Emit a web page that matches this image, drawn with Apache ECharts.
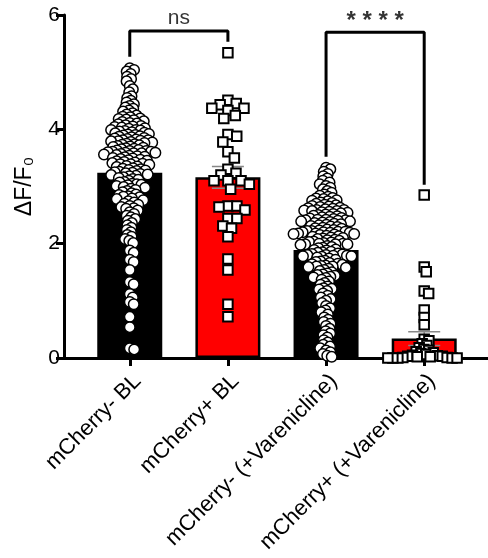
<!DOCTYPE html>
<html>
<head>
<meta charset="utf-8">
<script src="https://cdn.jsdelivr.net/npm/echarts@6/dist/echarts.min.js"></script>
<style>
html, body { margin: 0; padding: 0; background: #fff; }
#main { width: 488px; height: 558px; }
</style>
</head>
<body>
<div id="main"></div>
<script>
var categories = ['mCherry- BL', 'mCherry+ BL', 'mCherry- (+Varenicline)', 'mCherry+ (+Varenicline)'];
var barMeans = [3.24, 3.16, 1.89, 0.34];
var barSems = [0.07, 0.19, 0.06, 0.12];
var yTicks = [0, 2, 4, 6];

// mCherry- BL, each cell
var negBL = [
	5.07, 5.04, 5.01, 4.97, 4.92, 4.88, 4.84, 4.76, 4.70, 4.65,
	4.58, 4.55, 4.50, 4.47, 4.44, 4.41,
	4.38, 4.36, 4.33, 4.31, 4.28, 4.26, 4.24, 4.22, 4.21, 4.19,
	4.18, 4.17, 4.16, 4.14, 4.13, 4.11, 4.10, 4.09, 4.07, 4.06, 4.05, 4.04, 4.03, 4.02, 4.01, 3.99,
	3.99, 3.98, 3.97, 3.96, 3.95, 3.94, 3.93, 3.92, 3.91, 3.90, 3.89, 3.88, 3.87, 3.86, 3.85, 3.84, 3.83, 3.82, 3.81, 3.81, 3.80, 3.79,
	3.79, 3.78, 3.77, 3.76, 3.75, 3.74, 3.73, 3.72, 3.71, 3.70, 3.69, 3.68, 3.67, 3.66, 3.65, 3.64, 3.63, 3.62, 3.62, 3.61, 3.61, 3.60, 3.59, 3.59,
	3.58, 3.58, 3.57, 3.56, 3.55, 3.54, 3.53, 3.52, 3.51, 3.50, 3.49, 3.48, 3.47, 3.46, 3.45, 3.44, 3.43, 3.42, 3.41, 3.40, 3.39, 3.39,
	3.38, 3.36, 3.35, 3.34, 3.32, 3.31, 3.30, 3.29, 3.28, 3.27, 3.26, 3.25, 3.24, 3.23, 3.22, 3.21, 3.20, 3.19,
	3.18, 3.16, 3.15, 3.13, 3.12, 3.10, 3.08, 3.07, 3.05, 3.04, 3.03, 3.02, 3.01, 2.99,
	2.98, 2.96, 2.94, 2.92, 2.90, 2.88, 2.86, 2.85, 2.83, 2.82, 2.81, 2.79,
	2.78, 2.76, 2.74, 2.72, 2.70, 2.68, 2.66, 2.64, 2.62, 2.61,
	2.58, 2.55, 2.52, 2.49, 2.46, 2.43, 2.40,
	2.36, 2.32, 2.28, 2.24, 2.20,
	2.15, 2.12, 2.08, 2.05, 2.01,
	1.88, 1.84, 1.72, 1.68, 1.54, 1.33, 1.29, 1.12, 1.06, 0.98, 0.94, 0.72, 0.54, 0.17, 0.15
];
// mCherry+ BL
var posBL = [
	5.34, 4.51, 4.33, 4.43, 4.24, 4.45, 4.37, 4.19, 4.37, 3.88,
	3.78, 3.91, 3.50, 3.61, 3.30, 3.23, 3.20, 3.10, 3.10, 3.04,
	3.10, 2.95, 2.59, 2.64, 2.44, 2.66, 2.66, 2.44, 2.27, 2.31,
	2.12, 1.73, 1.54, 0.94, 0.72
];
// mCherry- (+Varenicline)
var negVar = [
	3.33, 3.30, 3.26, 3.22,
	3.18, 3.14, 3.10, 3.07, 3.04, 3.01,
	2.98, 2.95, 2.92, 2.89, 2.86, 2.84, 2.82, 2.80,
	2.79, 2.78, 2.76, 2.75, 2.74, 2.72, 2.71, 2.70, 2.68, 2.67, 2.66, 2.65, 2.64, 2.63, 2.62, 2.61,
	2.60, 2.59, 2.59, 2.58, 2.57, 2.57, 2.56, 2.55, 2.54, 2.53, 2.52, 2.51, 2.50, 2.49, 2.48, 2.47, 2.46, 2.45, 2.44, 2.43, 2.42, 2.42, 2.41, 2.41, 2.40, 2.39,
	2.39, 2.38, 2.37, 2.36, 2.35, 2.34, 2.33, 2.32, 2.31, 2.30, 2.29, 2.28, 2.27, 2.26, 2.25, 2.24, 2.23, 2.22, 2.22, 2.21, 2.21, 2.20, 2.20, 2.19, 2.19, 2.18,
	2.18, 2.17, 2.17, 2.16, 2.15, 2.14, 2.13, 2.12, 2.11, 2.10, 2.09, 2.08, 2.07, 2.06, 2.05, 2.04, 2.03, 2.02, 2.01, 2.00, 2.00, 1.99, 1.99, 1.99,
	1.98, 1.96, 1.94, 1.93, 1.92, 1.90, 1.89, 1.88, 1.86, 1.85, 1.84, 1.83, 1.82, 1.81, 1.80, 1.80, 1.79, 1.79, 1.78, 1.78,
	1.77, 1.76, 1.74, 1.72, 1.70, 1.69, 1.68, 1.66, 1.65, 1.64, 1.63, 1.62, 1.61, 1.60, 1.60, 1.59,
	1.58, 1.56, 1.54, 1.52, 1.50, 1.48, 1.46, 1.45, 1.44, 1.42, 1.41, 1.40,
	1.37, 1.34, 1.31, 1.28, 1.25, 1.22, 1.21, 1.20,
	1.17, 1.13, 1.09, 1.06, 1.03, 1.00,
	0.96, 0.91, 0.87, 0.83, 0.80,
	0.76, 0.71, 0.67, 0.63, 0.60,
	0.56, 0.51, 0.47, 0.43, 0.40,
	0.36, 0.31, 0.27, 0.23, 0.20,
	0.17, 0.13, 0.10, 0.07, 0.04, 0.02
];
// mCherry+ (+Varenicline)
var posVar = [
	2.85, 1.59, 1.51, 1.17, 1.13, 0.84, 0.71, 0.58, 0.33, 0.30,
	0.25, 0.22, 0.18, 0.15, 0.13, 0.11, 0.09, 0.08, 0.06, 0.05,
	0.04, 0.03, 0.03, 0.02, 0.02, 0.01, 0.01, 0.00, 0.00, 0.00,
	0.00, 0.00
];

var sigLabels = ['ns', '* * * *'];
var sigLabelPos = [[0.5, 5.94], [2.5, 5.88]];
var bracketNs = [[0, 5.27], [0, 5.72], [1, 5.72], [1, 5.53]];
var bracketStars = [[2, 3.52], [2, 5.70], [3, 5.70], [3, 3.03]];

var FONT = 'Liberation Sans, Arial, Helvetica, sans-serif';

// simple beeswarm: place each point as near the centre as it can go
function swarm(values, center, pxX, pxY, sep) {
	var placed = [];
	var sorted = values.slice().sort(function(a, b) { return b - a; });
	sorted.forEach(function(v) {
		var y = v * pxY;
		var cands = [0];
		placed.forEach(function(p) {
			var dy = Math.abs(p.y - y);
			if (dy < sep) {
				var dx = Math.sqrt(sep * sep - dy * dy);
				cands.push(p.x + dx, p.x - dx);
			}
		});
		cands.sort(function(a, b) { return Math.abs(a) - Math.abs(b); });
		var x = 0;
		for (var i = 0; i < cands.length; i++) {
			var c = cands[i];
			var ok = placed.every(function(p) {
				var dx = p.x - c, dy = p.y - y;
				return dx * dx + dy * dy >= sep * sep - 0.01;
			});
			if (ok) { x = c; break; }
		}
		placed.push({x: x, y: y, v: v});
	});
	return placed.map(function(p) { return [center + p.x / pxX, p.v]; });
}

var myChart = echarts.init(document.getElementById('main'));

var baseOption = {
	animation: false,
	grid: { left: 64, right: 0, top: 15, bottom: 200 },
	xAxis: {
		type: 'value',
		min: -0.67,
		max: 3.65,
		splitLine: { show: false },
		axisLine: { onZero: false, lineStyle: { color: '#000', width: 3 } },
		axisTick: { customValues: [0, 1, 2, 3], length: 8, lineStyle: { color: '#000', width: 3 } },
		axisLabel: {
			customValues: [0, 1, 2, 3],
			formatter: function(v) { return categories[Math.round(v)]; },
			rotate: 45,
			margin: 12,
			verticalAlign: 'top',
			color: '#000',
			fontSize: 22,
			fontFamily: FONT
		}
	},
	yAxis: {
		type: 'value',
		min: 0,
		max: 6,
		interval: 2,
		name: 'ΔF/F₀',
		nameLocation: 'middle',
		nameRotate: 90,
		nameGap: 28,
		nameTextStyle: { color: '#000', fontSize: 23, fontFamily: FONT },
		splitLine: { show: false },
		axisLine: { show: true, onZero: false, lineStyle: { color: '#000', width: 3 } },
		axisTick: { show: true, length: 8, lineStyle: { color: '#000', width: 3 } },
		axisLabel: {
			color: '#000',
			fontSize: 21,
			margin: 4,
			fontFamily: FONT,
			formatter: function(v) { return yTicks.indexOf(v) >= 0 ? String(v) : ''; }
		}
	},
	series: [{
		type: 'bar',
		barWidth: 65,
		z: 1,
		data: barMeans.map(function(m, i) {
			var red = i % 2 === 1;
			return {
				value: [i, m],
				itemStyle: { color: red ? '#ff0000' : '#000', borderColor: '#000', borderWidth: red ? 2.5 : 0 }
			};
		})
	}]
};
myChart.setOption(baseOption);

var p0 = myChart.convertToPixel({gridIndex: 0}, [0, 0]);
var p1 = myChart.convertToPixel({gridIndex: 0}, [1, 1]);
var pxX = p1[0] - p0[0];
var pxY = p0[1] - p1[1];

function dots(values, center, symbol, sep) {
	return {
		type: 'scatter',
		symbol: symbol,
		symbolSize: symbol === 'rect' ? 9.5 : 10.5,
		z: 3,
		clip: false,
		itemStyle: { color: '#fff', borderColor: '#000', borderWidth: symbol === 'rect' ? 2 : 1.5, opacity: 1 },
		data: swarm(values, center, pxX, pxY, sep)
	};
}

function bracket(points) {
	return {
		type: 'line',
		data: points,
		symbol: 'none',
		z: 4,
		lineStyle: { color: '#000', width: 3 }
	};
}

myChart.setOption({
	series: [
		baseOption.series[0],
		{
			type: 'custom',
			z: 2,
			data: barMeans.map(function(m, i) { return [i, m, barSems[i]]; }),
			renderItem: function(params, api) {
				var top = api.coord([api.value(0), api.value(1) + api.value(2)]);
				var bot = api.coord([api.value(0), api.value(1) - api.value(2)]);
				var half = 16;
				var st = { stroke: '#888', lineWidth: 1.5 };
				return {
					type: 'group',
					children: [
						{ type: 'line', shape: { x1: top[0], y1: top[1], x2: bot[0], y2: bot[1] }, style: st },
						{ type: 'line', shape: { x1: top[0] - half, y1: top[1], x2: top[0] + half, y2: top[1] }, style: st },
						{ type: 'line', shape: { x1: bot[0] - half, y1: bot[1], x2: bot[0] + half, y2: bot[1] }, style: st }
					]
				};
			}
		},
		dots(negBL, 0, 'circle', 4.6),
		dots(posBL, 1, 'rect', 9),
		dots(negVar, 2, 'circle', 4.6),
		dots(posVar, 3, 'rect', 5),
		bracket(bracketNs),
		bracket(bracketStars),
		{
			type: 'scatter',
			symbolSize: 0,
			z: 5,
			data: sigLabelPos.map(function(p, i) {
				return {
					value: p,
					label: {
						show: true,
						position: 'inside',
						formatter: sigLabels[i],
						color: '#000',
						fontFamily: FONT,
						fontSize: i === 0 ? 21 : 24,
						fontWeight: i === 0 ? 'normal' : 'bold'
					}
				};
			})
		}
	]
});
</script>
</body>
</html>
